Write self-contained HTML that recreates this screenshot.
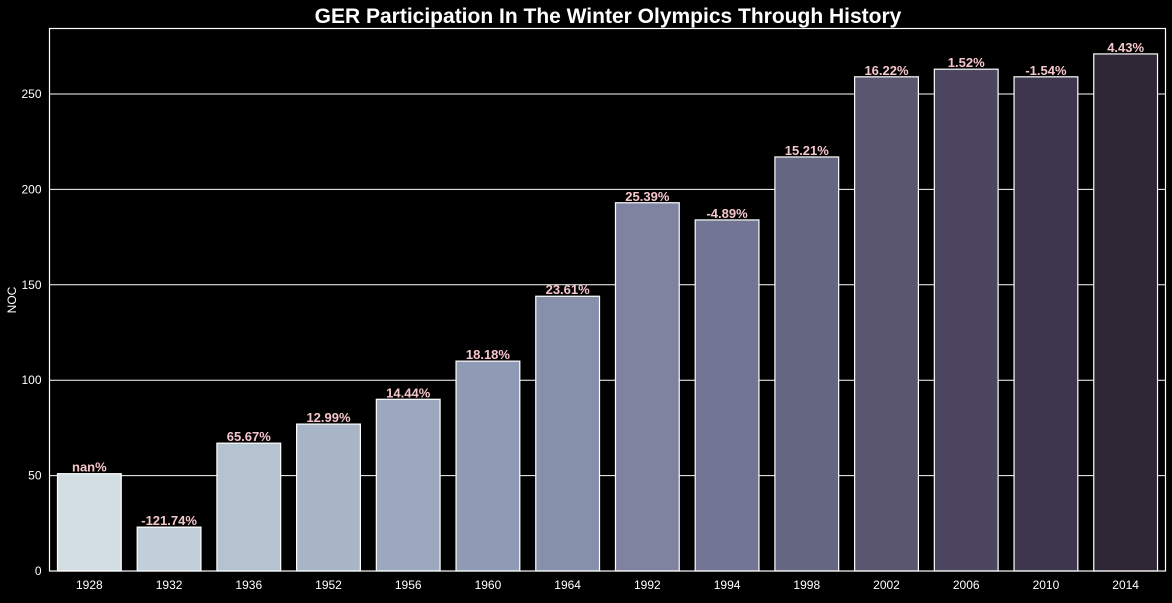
<!DOCTYPE html>
<html><head><meta charset="utf-8"><style>
html,body{margin:0;padding:0;background:#000;}
svg text{font-family:"Liberation Sans",Arial,sans-serif;}
</style></head><body>
<svg id="chart" width="1172" height="598" xmlns="http://www.w3.org/2000/svg">
<rect width="1172" height="598" fill="#000"/>
<text x="608" y="23" text-anchor="middle" fill="#fff" font-size="21" font-weight="bold">GER Participation In The Winter Olympics Through History</text>
<text transform="translate(16,300) rotate(-90)" text-anchor="middle" fill="#fff" font-size="12">NOC</text>
<g id="grid"></g><g id="bars"></g><g id="labels"></g><g id="ticks"></g>
<rect x="49.5" y="28.5" width="1116" height="542.5" fill="none" stroke="#fff" stroke-width="1.2"/>
</svg>
<script>
const categories=["1928","1932","1936","1952","1956","1960","1964","1992","1994","1998","2002","2006","2010","2014"];
const values=[51,23,67,77,90,110,144,193,184,217,259,263,259,271];
const pctLabels=["nan%","-121.74%","65.67%","12.99%","14.44%","18.18%","23.61%","25.39%","-4.89%","15.21%","16.22%","1.52%","-1.54%","4.43%"];
const yTicks=[0,50,100,150,200,250];
const barColors=["#d3dee4","#c3cfd8","#b5c2cf","#a8b5c7","#9ba8be","#8f9ab4","#8690ab","#7f83a0","#727594","#656782","#5a5670","#4c4660","#3d364c","#2f2636"];
const NS="http://www.w3.org/2000/svg";
const L=49.5,R=1165.5,B=571,T=28.5;
const y=v=>B-v*(477/250);
const step=(R-L)/categories.length;
const x=i=>L+step*i;
function mk(t,a,p){const e=document.createElementNS(NS,t);for(const k in a)e.setAttribute(k,a[k]);document.getElementById(p).appendChild(e);return e;}
yTicks.forEach(t=>{
  const g=mk('line',{x1:L,x2:R,y1:y(t),y2:y(t),stroke:'#fff','stroke-width':1},'grid');
  
  
  const tx=mk('text',{x:L-8,y:y(t)+4,'text-anchor':'end',fill:'#fff','font-size':12},'ticks');
  tx.textContent=t;
  
  
});
categories.forEach((c,i)=>{
  const bw=step*0.8,bx=x(i)+step*0.1;
  const r=mk('rect',{x:bx,y:y(values[i]),width:bw,height:B-y(values[i]),fill:barColors[i],stroke:'#fff','stroke-width':1.2},'bars');
  
  
  const lb=mk('text',{x:x(i)+step/2,y:y(values[i])-2,'text-anchor':'middle',fill:'#f5c6cb','font-size':13,'font-weight':'bold'},'labels');
  lb.textContent=pctLabels[i];
  
  
  const tk=mk('text',{x:x(i)+step/2,y:589,'text-anchor':'middle',fill:'#fff','font-size':12},'ticks');
  tk.textContent=c;
  
  
});
</script>
</body></html>
